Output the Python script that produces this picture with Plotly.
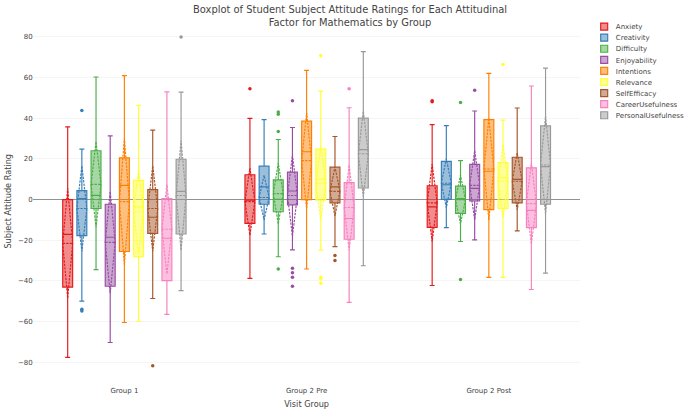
import plotly.graph_objects as go

# ---------------- data ----------------
GROUPS = ["Group 1", "Group 2 Pre", "Group 2 Post"]
FACTORS = ["Anxiety", "Creativity", "Difficulty", "Enjoyability", "Intentions",
           "Relevance", "SelfEfficacy", "CareerUsefulness", "PersonalUsefulness"]
COLORS = ["#E41A1C", "#377EB8", "#4DAF4A", "#984EA3", "#FF7F00",
          "#FFFF33", "#A65628", "#F781BF", "#999999"]

# per factor: [Group 1, Group 2 Pre, Group 2 Post]
lowerfence = [
    [-77.5, -38.7, -42.2],
    [-49.9, -16.9, -13.8],
    [-34.4, -28.1, -20.6],
    [-70.2, -24.7, -19.8],
    [-60.4, -34.1, -38.2],
    [-59.9, -24.8, -38.2],
    [-48.6, -23.1, -15.4],
    [-56.4, -50.5, -44.2],
    [-44.7, -32.5, -36.1],
]
q1 = [
    [-43.0, -11.7, -13.7],
    [-17.7, -2.3, 0.1],
    [-4.4, -6.0, -6.8],
    [-42.6, -2.6, -0.7],
    [-25.5, 0.0, -4.9],
    [-28.0, -0.3, -4.4],
    [-16.6, -1.6, -1.6],
    [-39.8, -19.5, -13.8],
    [-16.9, 5.7, -2.3],
]
median = [
    [-17.1, -0.3, -3.6],
    [0.5, 6.2, 7.3],
    [2.1, 0.1, 0.5],
    [-18.5, 4.2, 5.5],
    [7.0, 23.5, 13.9],
    [-3.6, 10.0, 10.7],
    [-8.7, 6.2, 9.9],
    [-19.0, -9.3, -5.3],
    [4.0, 24.5, 16.2],
]
mean = [
    [-21.5, -1.0, -1.6],
    [-4.4, 1.0, 8.0],
    [7.5, 2.9, 0.0],
    [-21.0, 2.0, 7.0],
    [-1.0, 19.1, 15.0],
    [-6.0, 8.0, 9.0],
    [-4.4, 4.0, 9.0],
    [-14.6, -3.9, -2.0],
    [2.0, 22.5, 17.0],
]
q3 = [
    [0.0, 12.2, 6.8],
    [4.4, 16.4, 18.8],
    [24.0, 9.7, 6.6],
    [-2.3, 13.5, 17.3],
    [20.5, 38.5, 39.3],
    [9.4, 24.8, 18.2],
    [4.9, 15.9, 20.8],
    [0.5, 8.3, 15.6],
    [19.8, 40.0, 36.2],
]
upperfence = [
    [35.7, 39.9, 36.8],
    [24.8, 39.3, 36.3],
    [60.2, 29.5, 19.1],
    [31.3, 35.4, 43.5],
    [60.9, 63.5, 62.0],
    [46.3, 53.3, 39.0],
    [34.1, 31.0, 45.0],
    [52.9, 45.1, 55.8],
    [52.8, 72.7, 64.6],
]
sd = [
    [27.0, 16.5, 19.0],
    [21.0, 11.0, 12.0],
    [21.0, 15.0, 12.0],
    [25.0, 20.0, 17.0],
    [31.0, 23.5, 25.0],
    [21.0, 18.0, 18.0],
    [21.0, 12.0, 14.0],
    [22.0, 21.0, 20.0],
    [27.0, 21.0, 24.0],
]
# outliers per factor: group labels and values
outlier_group = [
    ["Group 2 Pre", "Group 2 Post", "Group 2 Post"],
    ["Group 1", "Group 1", "Group 1"],
    ["Group 2 Pre", "Group 2 Pre", "Group 2 Pre", "Group 2 Pre", "Group 2 Post", "Group 2 Post"],
    ["Group 2 Pre"] * 5 + ["Group 2 Post"],
    [],
    ["Group 2 Pre"] * 4 + ["Group 2 Post"],
    ["Group 1", "Group 2 Pre", "Group 2 Pre"],
    ["Group 2 Pre"],
    ["Group 1"],
]
outlier_value = [
    [54.4, 48.0, 48.5],
    [43.8, -53.9, -54.8],
    [43.0, 41.9, 33.4, -34.1, 47.7, -39.3],
    [48.5, -33.8, -35.9, -38.2, -42.6, 53.7],
    [],
    [70.8, -38.2, -39.0, -41.1, 66.3],
    [-81.6, -27.5, -29.9],
    [54.4],
    [79.9],
]

# ---------------- figure ----------------
W, H = 1174, 705          # drawn at this size, then shown at 685x411
SCALE = 685 / W

fig = go.Figure()
for i, name in enumerate(FACTORS):
    fig.add_trace(go.Box(
        name=name, x=GROUPS, offsetgroup=name,
        q1=q1[i], median=median[i], q3=q3[i], mean=mean[i], sd=sd[i],
        lowerfence=lowerfence[i], upperfence=upperfence[i],
        boxmean="sd", marker_color=COLORS[i], line=dict(color=COLORS[i], width=2),
    ))
for i, name in enumerate(FACTORS):
    if not outlier_value[i]:
        continue
    fig.add_trace(go.Box(
        name=name, x=outlier_group[i], y=outlier_value[i],
        offsetgroup=name, showlegend=False, boxpoints="all", jitter=0, pointpos=0,
        fillcolor="rgba(0,0,0,0)", line=dict(color="rgba(0,0,0,0)", width=0),
        marker=dict(color=COLORS[i], size=6), hoveron="points",
    ))

fig.update_layout(
    template="none",
    width=W, height=H,
    boxmode="group",
    font=dict(family="DejaVu Sans, Verdana, sans-serif", size=12, color="#444"),
    title=dict(text="Boxplot of Student Subject Attitude Ratings for Each Attitudinal<br>Factor for Mathematics by Group",
               x=0.511, xanchor="center", y=0.968, yanchor="middle", font=dict(size=17)),
    margin=dict(l=57, r=180, t=32, b=47),
    xaxis=dict(title=dict(text="Visit Group", font=dict(size=14), standoff=11),
               showgrid=False, range=[-0.5, 2.5], ticklabelstandoff=3),
    yaxis=dict(title=dict(text="Subject Attitude Rating", font=dict(size=14)),
               gridcolor="#eee", zeroline=True, zerolinecolor="#444", zerolinewidth=1,
               tickvals=[-80, -60, -40, -20, 0, 20, 40, 60, 80]),
    legend=dict(xref="container", yref="container", x=0.865, y=0.956,
                xanchor="left", yanchor="top", tracegroupgap=0),
    paper_bgcolor="white", plot_bgcolor="white",
)

post = ("var gd=document.getElementById('{plot_id}');"
        "document.documentElement.style.overflow='hidden';"
        "document.body.style.margin='0';document.body.style.overflow='hidden';"
        "gd.style.transformOrigin='0 0';gd.style.transform='scale(" + repr(SCALE) + ")';")
fig.write_html("out.html", post_script=post, config={"displayModeBar": False})
